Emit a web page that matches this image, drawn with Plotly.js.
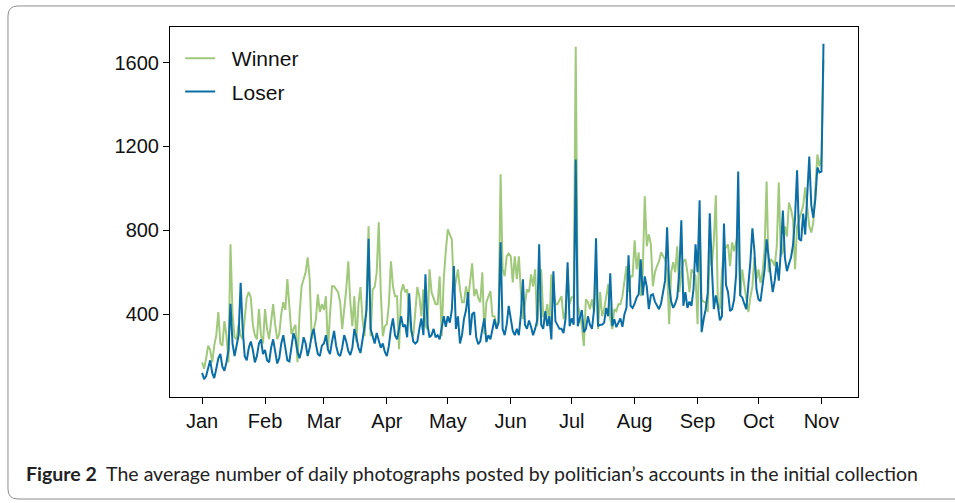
<!DOCTYPE html>
<html>
<head>
<meta charset="utf-8">
<script src="https://cdn.plot.ly/plotly-3.0.1.min.js"></script>
<style>
  html, body { margin: 0; padding: 0; background: #fff; }
  #chart { width: 955px; height: 503px; }
</style>
</head>
<body>
<div id="chart"></div>
<script>
// ---- DATA (daily values, 1 Jan 2020 .. 2 Nov 2020) ----
const startDate = '2020-01-01';

const winner = [
  // Jan
  170,140,190,250,230,170,250,300,410,260,250,367,300,170,733,400,290,280,350,300,280,400,480,505,480,350,300,280,424,300,260,
  // Feb
  424,330,281,380,448,350,281,305,400,457,420,567,448,305,330,350,171,400,533,567,600,671,567,281,330,371,495,410,448,
  // Mar
  420,486,233,400,533,533,520,505,457,329,424,520,652,457,343,486,267,448,529,376,295,471,820,295,519,529,600,838,505,295,343,
  // Apr
  352,450,652,533,486,486,233,505,543,505,519,390,314,295,400,529,486,390,519,343,329,614,505,470,448,448,581,295,567,700,
  // May
  805,780,757,505,567,614,520,457,457,533,471,550,643,486,520,476,457,600,305,457,480,510,390,390,343,360,1067,614,581,676,690,
  // Jun
  676,552,676,567,676,505,376,450,519,505,590,533,614,343,500,614,390,390,448,343,590,520,448,448,470,486,376,410,614,448,
  // Jul
  480,486,1676,448,400,343,248,471,457,424,471,410,614,329,505,390,424,480,543,376,329,424,415,448,448,486,560,629,505,581,581,
  // Aug
  752,614,695,486,600,962,724,781,733,533,600,629,652,695,680,662,614,352,600,648,600,724,505,600,652,662,600,505,614,600,581,
  // Sep
  352,838,471,460,457,410,710,629,750,967,448,424,600,710,719,733,629,743,700,743,790,486,614,540,471,410,480,533,671,567,
  // Oct
  614,548,600,710,1033,600,662,652,629,724,1028,676,700,819,771,933,900,852,614,819,850,886,917,1005,900,819,790,838,1000,1162,1105,
  // Nov
  1150,1614
];

const loser = [
  // Jan
  120,90,105,150,180,120,95,140,190,210,150,130,170,230,450,260,200,250,300,550,330,200,180,240,270,230,170,200,260,280,210,
  // Feb
  230,180,170,240,280,210,165,190,260,300,240,180,175,250,310,280,220,190,230,290,260,200,240,300,330,260,210,200,250,
  // Mar
  260,300,230,210,270,320,250,210,200,240,300,270,225,205,240,330,290,240,215,270,340,420,760,330,290,260,310,280,240,260,220,
  // Apr
  200,250,330,380,300,280,330,390,340,350,290,500,330,270,260,270,330,380,300,590,350,290,300,330,290,300,280,340,390,340,
  // May
  390,360,420,630,330,390,260,300,380,420,505,300,400,410,290,257,270,330,380,267,300,280,330,376,330,360,743,330,300,350,440,
  // Jun
  380,320,300,330,300,400,567,350,330,370,340,300,330,370,733,350,330,414,343,390,280,605,367,350,330,330,310,380,648,343,
  // Jul
  380,350,1138,343,380,420,314,330,390,350,330,420,762,343,350,350,360,430,390,595,343,376,338,360,380,340,400,430,681,440,430,
  // Aug
  450,480,495,662,490,580,530,424,490,495,460,440,424,450,500,560,814,540,460,430,450,480,600,848,440,505,430,460,440,520,733,
  // Sep
  600,943,314,376,424,500,881,630,424,490,440,371,390,833,540,505,415,424,470,590,1081,490,480,450,424,540,650,810,700,520,
  // Oct
  470,462,530,614,757,660,585,505,560,650,560,700,895,670,605,640,670,730,860,1086,760,750,880,780,990,1152,920,860,950,1100,1076,
  // Nov
  1080,1690
];

const monthTicks = ['2020-01-01','2020-02-01','2020-03-01','2020-04-01','2020-05-01','2020-06-01',
                    '2020-07-01','2020-08-01','2020-09-01','2020-10-01','2020-11-01'];
const monthLabels = ['Jan','Feb','Mar','Apr','May','Jun','Jul','Aug','Sep','Oct','Nov'];
const yTicks = [400, 800, 1200, 1600];
const seriesNames = ['Winner', 'Loser'];

// ---- build dates ----
function buildDates(n) {
  const out = [];
  const parts = startDate.split('-').map(Number);
  for (let i = 0; i < n; i++) {
    const d = new Date(Date.UTC(parts[0], parts[1] - 1, parts[2] + i));
    out.push(d.toISOString().slice(0, 10));
  }
  return out;
}
const dates = buildDates(winner.length);

const GREEN = '#a0c97b';
const BLUE = '#0b6fa6';
const tickFont = { family: 'Liberation Sans, Arial, sans-serif', size: 20, color: '#111' };
const pad = '\u00a0\u00a0';

const traces = [
  { x: dates, y: winner, type: 'scatter', mode: 'lines', name: pad + seriesNames[0], legendgroup: 'w',
    line: { color: GREEN, width: 2 } },
  { x: dates, y: loser, type: 'scatter', mode: 'lines', name: pad + seriesNames[1], legendgroup: 'l',
    line: { color: BLUE, width: 2 } }
];

// rounded outer frame in paper coordinates (open at the right edge)
const L = -0.2355, R = 1.35, T = 1.0568, B = -0.2757, rx = 0.0145, ry = 0.027;
const framePath = `M ${R},${T} L ${L+rx},${T} Q ${L},${T} ${L},${T-ry} ` +
                  `L ${L},${B+ry} Q ${L},${B} ${L+rx},${B} L ${R},${B}`;

const layout = {
  width: 955, height: 503,
  margin: { l: 170, r: 97, t: 27, b: 106 },
  paper_bgcolor: '#fff', plot_bgcolor: '#fff',
  showlegend: true,
  legend: {
    x: 0.0148, y: 0.97, xanchor: 'left', yanchor: 'top',
    bgcolor: 'rgba(0,0,0,0)', borderwidth: 0,
    font: { family: 'Liberation Sans, Arial, sans-serif', size: 21, color: '#111' },
    tracegroupgap: 3, itemwidth: 30, traceorder: 'grouped'
  },
  xaxis: {
    type: 'date', range: ['2019-12-16 05:00', '2020-11-19'],
    tickmode: 'array', tickvals: monthTicks, ticktext: monthLabels,
    ticks: 'outside', ticklen: 6, tickcolor: '#000', tickwidth: 1,
    showline: true, mirror: true, linecolor: '#000', linewidth: 1,
    showgrid: false, zeroline: false, tickfont: tickFont
  },
  yaxis: {
    range: [5, 1770],
    tickmode: 'array', tickvals: yTicks,
    ticks: 'outside', ticklen: 6, tickcolor: '#000', tickwidth: 1,
    showline: true, mirror: true, linecolor: '#000', linewidth: 1,
    showgrid: false, zeroline: false, tickfont: tickFont
  },
  shapes: [
    { type: 'path', xref: 'paper', yref: 'paper', path: framePath,
      line: { color: '#8c8c8c', width: 1 }, fillcolor: 'rgba(0,0,0,0)', layer: 'below' }
  ],
  annotations: [
    { xref: 'paper', yref: 'paper', x: -0.212, y: -0.208, xanchor: 'left', yanchor: 'middle',
      showarrow: false, align: 'left',
      text: '<b>Figure 2</b>  The average number of daily photographs posted by politician\u2019s accounts in the initial collection',
      font: { family: 'Lato, Noto Sans, sans-serif', size: 19.5, color: '#222' } }
  ]
};

Plotly.newPlot('chart', traces, layout, { displayModeBar: false, staticPlot: true });
</script>
</body>
</html>
